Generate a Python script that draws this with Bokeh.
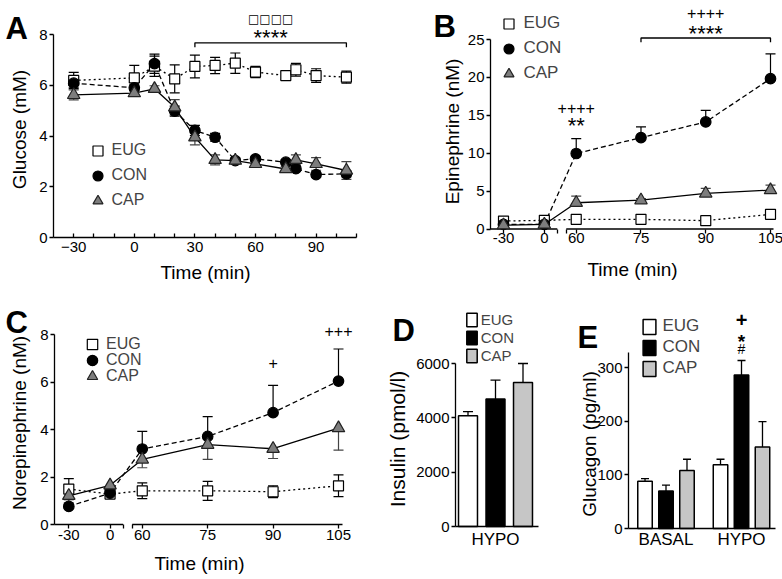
import math
from bokeh.plotting import figure
from bokeh.layouts import row, column
from bokeh.models import (ColumnDataSource, Whisker, TeeHead, Legend, LegendItem,
                          FixedTicker, Range1d)
from bokeh.transform import dodge
from bokeh.core.properties import value
from bokeh.embed import file_html
from bokeh.resources import INLINE

# ---------------- data ----------------
SERIES = ["EUG", "CON", "CAP"]

# A: plasma glucose (mM), mean and SEM
glu_time = [-30, 0, 10, 20, 30, 40, 50, 60, 75, 80, 90, 105]
glu_eug = [6.19, 6.29, 6.75, 6.25, 6.74, 6.78, 6.87, 6.52, 6.38, 6.61, 6.38, 6.32]
glu_eug_sem = [0.32, 0.49, 0.40, 0.55, 0.45, 0.32, 0.40, 0.22, 0.15, 0.25, 0.27, 0.24]
glu_con = [6.08, 5.90, 6.85, 4.98, 4.22, 3.95, 3.03, 3.10, 2.97, 2.71, 2.48, 2.51]
glu_con_sem = [0.15, 0.12, 0.38, 0.20, 0.20, 0.15, 0.10, 0.10, 0.10, 0.10, 0.10, 0.12]
glu_cap = [5.62, 5.69, 5.86, 5.13, 3.95, 3.06, 3.03, 2.90, 2.70, 3.06, 2.90, 2.64]
glu_cap_sem = [0.20, 0.12, 0.12, 0.30, 0.30, 0.20, 0.10, 0.10, 0.10, 0.20, 0.25, 0.35]

# B, C: sampling times (broken time axis)
cat_time = [-30, 0, 60, 75, 90, 105]

# B: epinephrine (nM)
epi_eug = [1.05, 1.14, 1.27, 1.27, 1.10, 1.93]
epi_eug_sem = [0.10, 0.10, 0.10, 0.10, 0.10, 0.57]
epi_con = [0.60, 0.60, 9.96, 12.06, 14.12, 19.83]
epi_con_sem = [0.10, 0.10, 1.97, 1.40, 1.54, 3.27]
epi_cap = [0.50, 0.60, 3.46, 3.80, 4.69, 5.13]
epi_cap_sem = [0.10, 0.10, 0.88, 0.20, 0.66, 0.66]

# C: norepinephrine (nM)
ne_eug = [1.49, 1.28, 1.42, 1.42, 1.38, 1.63]
ne_eug_sem = [0.44, 0.10, 0.33, 0.40, 0.25, 0.46]
ne_con = [0.76, 1.32, 3.18, 3.71, 4.71, 6.04]
ne_con_sem = [0.10, 0.10, 0.74, 0.83, 1.15, 1.35]
ne_cap = [1.21, 1.65, 2.74, 3.36, 3.19, 4.06]
ne_cap_sem = [0.30, 0.23, 0.35, 0.62, 0.41, 0.93]

# D: insulin (pmol/l)
ins_groups = ["HYPO"]
ins_eug = [4080]
ins_eug_sem = [150]
ins_con = [4690]
ins_con_sem = [700]
ins_cap = [5300]
ins_cap_sem = [700]

# E: glucagon (pg/ml)
glc_groups = ["BASAL", "HYPO"]
glc_eug = [88, 119]
glc_eug_sem = [5, 10]
glc_con = [70, 286]
glc_con_sem = [11, 27]
glc_cap = [108, 152]
glc_cap_sem = [21, 47]

# significance marks
sigA_range = [30, 105]
sigA_text = ["****", "\u25a1\u25a1\u25a1\u25a1"]
sigA_y = [7.88, 8.63]
sigA_bracket = 7.67

sigB_time = [60, 60, 90, 90]
sigB_text = ["++++", "**", "++++", "****"]
sigB_y = [16.0, 13.7, 28.46, 25.8]
sigB_range = [75, 105]
sigB_bracket = 25.2

sigC_time = [90, 105]
sigC_text = ["+", "+++"]
sigC_y = [6.8, 8.15]

sigE_text = ["+", "*", "#"]
sigE_y = [389, 349, 335]

# ---------------- styling ----------------
FONT = "Liberation Sans"

STY = {
    "EUG": dict(marker="square", size=10, fill="white", line="black", dash="2 3", err="black"),
    "CON": dict(marker="circle", size=10.5, fill="black", line="black", dash="5 3", err="black"),
    "CAP": dict(marker="triangle", size=12.5, fill="#7d7d7d", line="#222222", dash="solid", err="#444444"),
}
BAR_FILL = {"EUG": "white", "CON": "black", "CAP": "#c6c6c6"}


def brk(t):
    # broken time axis: basal period compressed, gap, clamp period expanded
    return t * 41.0 / 30.0 if t <= 0 else 32.0 + (t - 60) * 65.0 / 15.0


class Geo:
    """Maps page pixels of one panel to its data coordinates."""
    def __init__(self, box, xmap, ymap):
        self.L, self.T, self.R, self.B = box
        (xv0, xp0), (xv1, xp1) = xmap
        (yv0, yp0), (yv1, yp1) = ymap
        self.xv0, self.xp0, self.kx = xv0, xp0, (xv1 - xv0) / (xp1 - xp0)
        self.yv0, self.yp0, self.ky = yv0, yp0, (yv1 - yv0) / (yp1 - yp0)

    def x(self, px):
        return self.xv0 + (px - self.xp0) * self.kx

    def y(self, py):
        return self.yv0 + (py - self.yp0) * self.ky


def make_fig(g, yaxis_px, xaxis_val=0):
    p = figure(frame_width=g.R - g.L, frame_height=g.B - g.T,
               min_border_left=0, min_border_right=0, min_border_top=0, min_border_bottom=0,
               x_range=Range1d(g.x(g.L), g.x(g.R)), y_range=Range1d(g.y(g.B), g.y(g.T)),
               output_backend="svg", toolbar_location=None)
    p.outline_line_color = None
    p.xgrid.visible = False
    p.ygrid.visible = False
    p.background_fill_color = "white"
    p.border_fill_color = "white"
    for ax in (p.xaxis[0], p.yaxis[0]):
        ax.axis_line_color = "black"
        ax.axis_line_width = 1.3
        ax.major_tick_line_color = "black"
        ax.major_tick_line_width = 1.3
        ax.minor_tick_line_color = None
        ax.major_label_text_font = FONT
        ax.major_label_text_font_size = "15px"
        ax.major_label_text_color = "black"
    p.yaxis.fixed_location = g.x(yaxis_px)
    p.xaxis.fixed_location = xaxis_val
    p.yaxis.major_tick_in = 0
    p.yaxis.major_tick_out = 4
    p.yaxis.major_label_standoff = 2
    return p


def put_text(p, g, px, py, text, size, align="center", baseline="alphabetic", angle=0.0,
             style="normal", font=FONT):
    src = ColumnDataSource(dict(x=[g.x(px)], y=[g.y(py)], t=[text]))
    p.text("x", "y", text="t", source=src, angle=angle, text_font=value(font),
           text_font_size=size, text_font_style=style, text_align=align,
           text_baseline=baseline, text_color="black")


def decorate(p, g, letter, lx, ly, ytitle, tx, ty, tsize="19px", xtitle=None):
    put_text(p, g, lx, ly, letter, "31px", align="left", style="bold")
    put_text(p, g, tx, ty, ytitle, tsize, baseline="middle", angle=math.pi / 2)
    if xtitle is not None:
        put_text(p, g, xtitle[0], xtitle[1], "Time (min)", "19px", baseline="middle")


def make_legend(items, loc, gw, gh, spacing, size, standoff):
    return Legend(items=items, location=loc, glyph_width=gw, glyph_height=gh,
                  label_height=gh, spacing=spacing, padding=0, margin=0,
                  label_standoff=standoff, border_line_color=None, background_fill_alpha=0,
                  label_text_font=FONT, label_text_font_size=size)


def series_plot(p, xs, data):
    srcs = {}
    for name, (mean, sem, mode) in data.items():
        st = STY[name]
        lo = [m - s if mode in ("both", "down") else m for m, s in zip(mean, sem)]
        hi = [m + s if mode in ("both", "up") else m for m, s in zip(mean, sem)]
        src = ColumnDataSource(dict(x=xs, y=mean, lo=lo, hi=hi))
        srcs[name] = src
        p.line("x", "y", source=src, line_color="black", line_width=1.3, line_dash=st["dash"])
        up = TeeHead(size=10, line_color=st["err"], line_width=1.2) if mode in ("both", "up") else None
        dn = TeeHead(size=10, line_color=st["err"], line_width=1.2) if mode in ("both", "down") else None
        p.add_layout(Whisker(source=src, base="x", lower="lo", upper="hi", dimension="height",
                             line_color=st["err"], line_width=1.2, upper_head=up, lower_head=dn,
                             level="underlay"))
    items = []
    for name in SERIES:
        st = STY[name]
        r = p.scatter("x", "y", source=srcs[name], marker=st["marker"], size=st["size"],
                      fill_color=st["fill"], line_color=st["line"], line_width=1.2)
        items.append(LegendItem(label=name, renderers=[r]))
    return items


def sig_text(p, xs, ys, texts, size, style="normal", font=FONT):
    src = ColumnDataSource(dict(x=xs, y=ys, t=texts))
    p.text("x", "y", text="t", source=src, text_font=value(font), text_font_size=size,
           text_font_style=style, text_align="center", text_baseline="middle", text_color="black")


def bracket(p, x0, x1, y, drop):
    p.line([x0, x0, x1, x1], [y - drop, y, y, y - drop], line_color="black", line_width=1.3)


ROW1, ROW2 = 287, 578

# ---------------- Panel A ----------------
gA = Geo((0, 0, 385, ROW1), ((-40, 53), (110, 356)), ((0, 237), (8, 34)))
pA = make_fig(gA, 53)
pA.xaxis.ticker = FixedTicker(ticks=[-30, 0, 30, 60, 90],
                              minor_ticks=[-20, -10, 10, 20, 40, 50, 70, 80, 100, 110])
pA.xaxis.bounds = (-40, 110)
pA.xaxis.major_tick_in = 4
pA.xaxis.major_tick_out = 0
pA.xaxis.minor_tick_line_color = "black"
pA.xaxis.minor_tick_line_width = 1.3
pA.xaxis.minor_tick_in = 4
pA.xaxis.minor_tick_out = 0
pA.xaxis.major_label_standoff = 4
pA.yaxis.ticker = FixedTicker(ticks=[0, 2, 4, 6, 8])
pA.yaxis.bounds = (0, 8)
itA = series_plot(pA, glu_time,
                  {"EUG": (glu_eug, glu_eug_sem, "both"),
                   "CON": (glu_con, glu_con_sem, "both"),
                   "CAP": (glu_cap, glu_cap_sem, "both")})
pA.add_layout(make_legend(itA, (84.5, ROW1 - 212.5), 25, 25, 0, "16px", 2))
bracket(pA, sigA_range[0], sigA_range[1], sigA_bracket, 0.17)
mid = (sigA_range[0] + sigA_range[1]) / 2
sig_text(pA, [mid], [sigA_y[0]], [sigA_text[0]], "22px")
sig_text(pA, [mid], [sigA_y[1]], [sigA_text[1]], "12px", font="DejaVu Sans")
decorate(pA, gA, "A", 5, 28, "Glucose (mM)", 19, 129, xtitle=(205, 272))

# ---------------- Panel B ----------------
BRK0, BRK1 = 13, 22
pos = [brk(t) for t in cat_time]
overrides = {brk(t): str(t) for t in cat_time}
overrides[BRK0] = ""
overrides[BRK1] = ""

gB = Geo((385, 0, 782, ROW1), ((-41, 503), (227, 770)), ((0, 228.5), (25, 39)))
pB = make_fig(gB, 490)
pB.xaxis.ticker = FixedTicker(ticks=pos + [BRK0, BRK1])
pB.xaxis.major_label_overrides = overrides
pB.xaxis.major_tick_in = 0
pB.xaxis.major_tick_out = 4
pB.xaxis.major_label_standoff = 0
pB.xaxis.axis_line_color = None
pB.yaxis.ticker = FixedTicker(ticks=[0, 5, 10, 15, 20, 25])
pB.yaxis.bounds = (0, 25)
pB.segment(x0=[gB.x(490), BRK1], y0=[0, 0], x1=[BRK0, gB.x(773)], y1=[0, 0],
           line_color="black", line_width=1.3)
itB = series_plot(pB, pos,
                  {"EUG": (epi_eug, epi_eug_sem, "up"),
                   "CON": (epi_con, epi_con_sem, "up"),
                   "CAP": (epi_cap, epi_cap_sem, "up")})
pB.add_layout(make_legend(itB, (110.5, ROW1 - 85.5), 25, 25, 0, "17px", 3))
bracket(pB, brk(sigB_range[0]), brk(sigB_range[1]), sigB_bracket, 0.55)
sig_text(pB, [brk(t) for t in sigB_time[0::2]], sigB_y[0::2], sigB_text[0::2], "16px")
sig_text(pB, [brk(t) for t in sigB_time[1::2]], sigB_y[1::2], sigB_text[1::2], "22px")
decorate(pB, gB, "B", 433, 26, "Epinephrine (nM)", 452, 131, xtitle=(632, 269))

# ---------------- Panel C ----------------
gC = Geo((0, ROW1, 383, ROW2), ((-41, 68.3), (227, 338)), ((0, 524), (8, 334)))
pC = make_fig(gC, 54)
pC.xaxis.ticker = FixedTicker(ticks=pos + [BRK0, BRK1])
pC.xaxis.major_label_overrides = overrides
pC.xaxis.major_tick_in = 0
pC.xaxis.major_tick_out = 4
pC.xaxis.major_label_standoff = 1
pC.xaxis.axis_line_color = None
pC.yaxis.ticker = FixedTicker(ticks=[0, 2, 4, 6, 8])
pC.yaxis.bounds = (0, 8)
pC.segment(x0=[gC.x(54), BRK1], y0=[0, 0], x1=[BRK0, gC.x(342)], y1=[0, 0],
           line_color="black", line_width=1.3)
itC = series_plot(pC, pos,
                  {"EUG": (ne_eug, ne_eug_sem, "both"),
                   "CON": (ne_con, ne_con_sem, "up"),
                   "CAP": (ne_cap, ne_cap_sem, "down")})
for item, cy in zip(itC, [344, 360, 376]):
    pC.add_layout(make_legend([item], (79, ROW2 - (cy + 13)), 26, 26, 0, "16px", 1))
sig_text(pC, [brk(t) for t in sigC_time], sigC_y, sigC_text, "16px")
decorate(pC, gC, "C", 5, 322, "Norepinephrine (nM)", 19, 422.5, xtitle=(199, 563))


def bar_panel(p, gx, data, offs, width, head):
    cols = dict(gx=gx)
    for name, (mean, sem) in data.items():
        cols[name] = mean
        cols[name + "_hi"] = [m + s for m, s in zip(mean, sem)]
    src = ColumnDataSource(cols)
    items = []
    for name, off in zip(SERIES, offs):
        r = p.vbar(x=dodge("gx", off), top=name, width=width, source=src,
                   fill_color=BAR_FILL[name], line_color="black", line_width=1.5)
        p.add_layout(Whisker(source=src, base=dodge("gx", off), lower=name, upper=name + "_hi",
                             dimension="height", line_color="black", line_width=1.3,
                             upper_head=TeeHead(size=head, line_color="black", line_width=1.3),
                             lower_head=None, level="underlay"))
        items.append(LegendItem(label=name, renderers=[r]))
    return items


def bar_axes(p, groups, standoff):
    idx = list(range(len(groups)))
    p.xaxis.ticker = FixedTicker(ticks=idx)
    p.xaxis.major_label_overrides = {i: gname for i, gname in zip(idx, groups)}
    p.xaxis.major_tick_in = 0
    p.xaxis.major_tick_out = 0
    p.xaxis.major_label_text_font_size = "17px"
    p.xaxis.major_label_standoff = standoff
    return idx


# ---------------- Panel D ----------------
gD = Geo((383, ROW1, 565, ROW2), ((0, 495), (1, 522.5)), ((0, 526), (6000, 363)))
pD = make_fig(gD, 455)
gxD = bar_axes(pD, ins_groups, 3)
pD.xaxis.bounds = (gD.x(455), gD.x(538))
pD.yaxis.ticker = FixedTicker(ticks=[0, 2000, 4000, 6000])
pD.yaxis.bounds = (0, 6000)
itD = bar_panel(pD, gxD,
                {"EUG": (ins_eug, ins_eug_sem), "CON": (ins_con, ins_con_sem),
                 "CAP": (ins_cap, ins_cap_sem)},
                [-1, 0, 1], 0.69, 10)
pD.add_layout(make_legend(itD, (81.7, ROW2 - 364), 13, 17, 1, "15px", 3))
decorate(pD, gD, "D", 392, 330, "Insulin (pmol/l)", 397, 438.5, tsize="21px")

# ---------------- Panel E ----------------
gE = Geo((565, ROW1, 782, ROW2), ((0, 665.5), (1, 741)), ((0, 528), (300, 367)))
pE = make_fig(gE, 628)
gxE = bar_axes(pE, glc_groups, 1)
pE.xaxis.bounds = (gE.x(628), gE.x(775))
pE.yaxis.ticker = FixedTicker(ticks=[0, 100, 200, 300])
pE.yaxis.bounds = (0, 328)
itE = bar_panel(pE, gxE,
                {"EUG": (glc_eug, glc_eug_sem), "CON": (glc_con, glc_con_sem),
                 "CAP": (glc_cap, glc_cap_sem)},
                [-0.278, 0, 0.278], 0.192, 8)
pE.add_layout(make_legend(itE, (76.4, ROW2 - 378), 16, 19, 1, "17px", 5))
hypo = gxE[glc_groups.index("HYPO")]
sE = ColumnDataSource(dict(x=[hypo] * 3, y=sigE_y, t=sigE_text,
                           fs=["20px", "19px", "14px"], st=["bold", "bold", "normal"]))
pE.text("x", "y", text="t", source=sE, text_font=value(FONT), text_font_size="fs",
        text_font_style="st", text_align="center", text_baseline="middle", text_color="black")
decorate(pE, gE, "E", 577, 337, "Glucagon (pg/ml)", 589, 443.5)

layout = column(row(pA, pB), row(pC, pD, pE))
open("out.html", "w").write(file_html(layout, INLINE))
